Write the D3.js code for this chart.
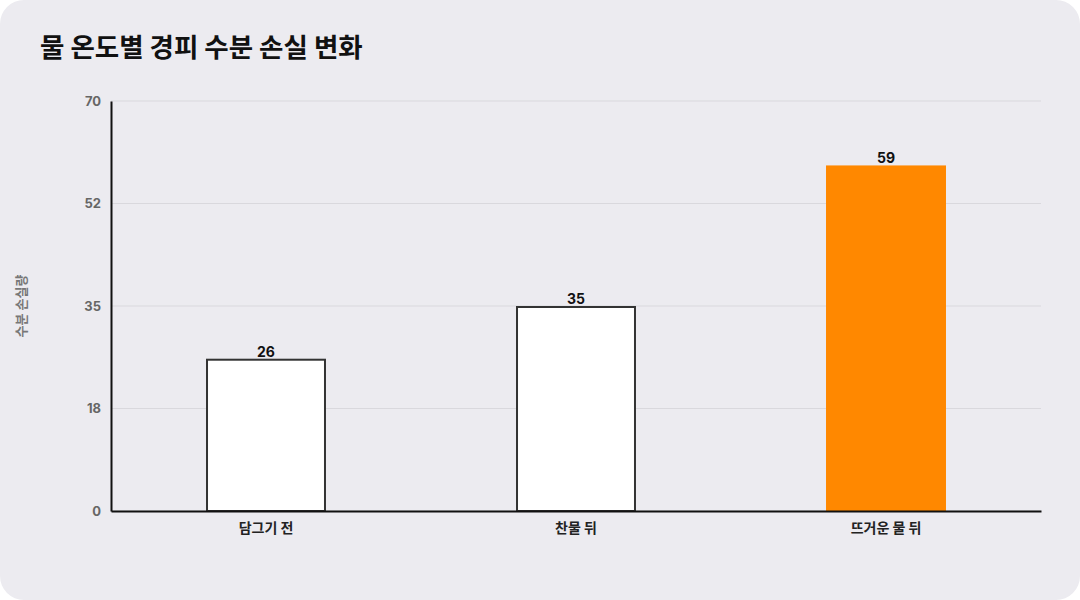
<!DOCTYPE html>
<html>
<head>
<meta charset="utf-8">
<script src="https://cdn.jsdelivr.net/npm/d3@7"></script>
<style>
  body { margin: 0; background: #ffffff; font-family: Inter, "Noto Sans CJK KR", sans-serif; }
</style>
</head>
<body>
<div id="chart"></div>
<script>
// chart values
const categories = ["담그기 전", "찬물 뒤", "뜨거운 물 뒤"];
const values = [26, 35, 59];
const barFills = ["#ffffff", "#ffffff", "#ff8800"];
const barStrokes = ["#333333", "#333333", "none"];
const yTicks = [0, 17.5, 35, 52.5, 70];
const yTickLabels = ["0", "18", "35", "52", "70"];

const W = 1080, H = 600;
const margin = { top: 101, right: 39, bottom: 89, left: 111 };
const width = W - margin.left - margin.right;
const height = H - margin.top - margin.bottom;

const root = d3.select("#chart").append("svg")
    .attr("width", W)
    .attr("height", H);

// card background
root.append("rect")
    .attr("x", 0).attr("y", 0)
    .attr("width", W).attr("height", H)
    .attr("rx", 24)
    .attr("fill", "#ecebf0");

root.append("text")
    .attr("x", 40).attr("y", 57)
    .attr("font-size", 26.5)
    .attr("font-weight", 700)
    .attr("fill", "#111")
    .style("font-family", "'Noto Sans CJK KR', sans-serif")
    .text("물 온도별 경피 수분 손실 변화");

const svg = root.append("g")
    .attr("transform", "translate(" + margin.left + "," + margin.top + ")");

let x = d3.scaleBand().domain(categories).range([0, width]).paddingInner(0.613).paddingOuter(0.3065);
let y = d3.scaleLinear().domain([0, 70]).range([height, 0]);

// grid
svg.append("g")
    .selectAll("line")
    .data(yTicks)
    .enter()
    .append("line")
    .attr("x1", 0).attr("x2", width)
    .attr("y1", d => y(d)).attr("y2", d => y(d))
    .attr("stroke", "#d9d8dd")
    .attr("stroke-width", 1);

// y axis
let yAxis = svg.append("g")
    .call(d3.axisLeft(y).tickValues(yTicks).tickSize(0).tickPadding(10)
        .tickFormat((d, i) => yTickLabels[i]));
yAxis.select(".domain").attr("stroke", "#111").attr("stroke-width", 2);
yAxis.selectAll("text")
    .attr("font-size", 13)
    .attr("font-weight", 700)
    .attr("fill", "#666")
    .style("font-family", "Inter, sans-serif");

// bars
svg.selectAll(".bar")
    .data(values)
    .enter()
    .append("rect")
    .attr("class", "bar")
    .attr("x", (d, i) => x(categories[i]) + (barStrokes[i] === "none" ? 0 : 1))
    .attr("y", (d, i) => y(d) + (barStrokes[i] === "none" ? 0 : 1))
    .attr("width", (d, i) => x.bandwidth() - (barStrokes[i] === "none" ? 0 : 2))
    .attr("height", (d, i) => height - y(d) - (barStrokes[i] === "none" ? 0 : 1))
    .attr("fill", (d, i) => barFills[i])
    .attr("stroke", (d, i) => barStrokes[i])
    .attr("stroke-width", 2);

// value labels
svg.selectAll(".val")
    .data(values)
    .enter()
    .append("text")
    .attr("x", (d, i) => x(categories[i]) + x.bandwidth() / 2)
    .attr("y", d => y(d) - 2)
    .attr("text-anchor", "middle")
    .attr("font-size", 14)
    .attr("font-weight", 700)
    .attr("fill", "#111")
    .style("font-family", "Inter, sans-serif")
    .text(d => d);

// x axis
let xAxis = svg.append("g")
    .attr("transform", "translate(0," + height + ")")
    .call(d3.axisBottom(x).tickSize(0).tickPadding(12));
xAxis.select(".domain").attr("stroke", "#111").attr("stroke-width", 2);
xAxis.selectAll("text")
    .attr("font-size", 14)
    .attr("font-weight", 700)
    .attr("fill", "#222")
    .style("font-family", "'Noto Sans CJK KR', sans-serif");

// y axis title
root.append("text")
    .attr("transform", "translate(26," + (margin.top + height / 2) + ") rotate(-90)")
    .attr("text-anchor", "middle")
    .attr("font-size", 13)
    .attr("font-weight", 700)
    .attr("fill", "#777")
    .style("font-family", "'Noto Sans CJK KR', sans-serif")
    .text("수분 손실량");
</script>
</body>
</html>
